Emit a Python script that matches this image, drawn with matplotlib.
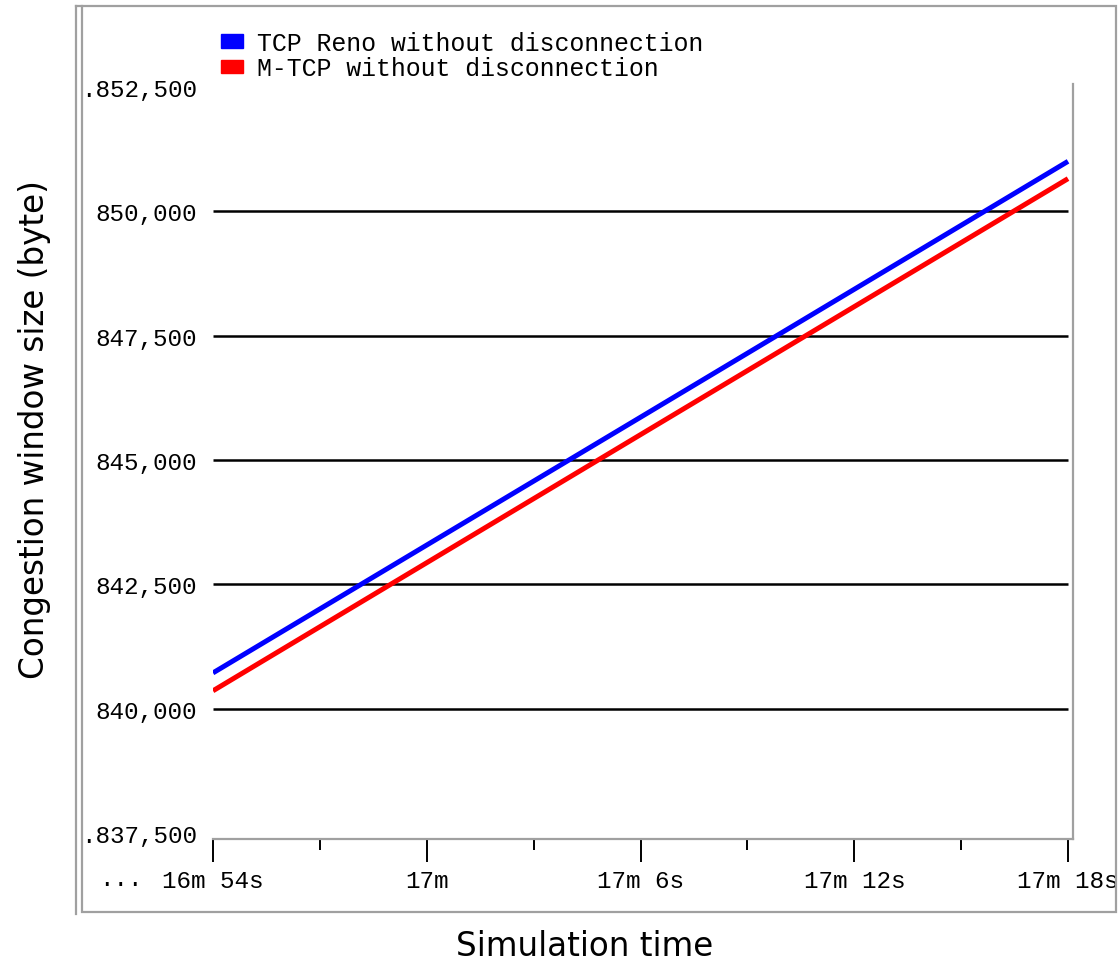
import matplotlib
matplotlib.use("Agg")
import matplotlib.pyplot as plt
from matplotlib.patches import Rectangle
from matplotlib.lines import Line2D
from matplotlib.ticker import FixedLocator, FixedFormatter
import matplotlib.transforms as mtransforms

# ---- data ----
time_s = [1014, 1026, 1038]                 # 16m 54s, 17m 6s, 17m 18s
reno_cwnd = [840720, 845860, 851005]        # TCP Reno without disconnection
mtcp_cwnd = [840360, 845510, 850657]        # M-TCP without disconnection
series_labels = ["TCP Reno without disconnection", "M-TCP without disconnection"]

xtick_major = [1014, 1020, 1026, 1032, 1038]
xtick_major_labels = ["16m 54s", "17m", "17m 6s", "17m 12s", "17m 18s"]
xtick_minor = [1017, 1023, 1029, 1035]
ytick_values = [837500, 840000, 842500, 845000, 847500, 850000, 852500]
ytick_labels = [".837,500", "840,000", "842,500", "845,000", "847,500", "850,000", ".852,500"]
grid_values = [840000, 842500, 845000, 847500, 850000]

W, H = 1118, 970
fig = plt.figure(figsize=(W / 100, H / 100), dpi=100)
fig.patch.set_facecolor("white")

mono = "Liberation Mono"
fs_mono = 17.5

# outer frame
fig.patches.append(Rectangle((82 / W, 1 - 913 / H), (1116 - 82) / W, (913 - 7) / H,
                             transform=fig.transFigure, fill=False,
                             edgecolor="#a0a0a0", linewidth=1.6))
fig.lines.append(Line2D([76 / W, 76 / W], [1 - 915 / H, 1 - 7 / H],
                        transform=fig.transFigure, color="#a0a0a0", linewidth=1.6))
fig.lines.append(Line2D([76 / W, 82 / W], [1 - 7 / H, 1 - 7 / H],
                        transform=fig.transFigure, color="#a0a0a0", linewidth=1.6))

left, right, top, bottom = 213, 1073, 85, 840
ax = fig.add_axes([left / W, 1 - bottom / H, (right - left) / W, (bottom - top) / H])
ax.set_facecolor("white")

ax.set_xlim(1014, 1038.14)
ax.set_ylim(837380, 852560)

for s in ["top", "left"]:
    ax.spines[s].set_visible(False)
for s in ["bottom", "right"]:
    ax.spines[s].set_color("#a0a0a0")
    ax.spines[s].set_linewidth(1.6)

ax.hlines(grid_values, time_s[0], time_s[-1], colors="black", linewidth=1.8, zorder=1)

ax.plot(time_s, reno_cwnd, color="#0000ff", linewidth=3.6, label=series_labels[0],
        solid_capstyle="butt", zorder=3)
ax.plot(time_s, mtcp_cwnd, color="#ff0000", linewidth=3.6, label=series_labels[1],
        solid_capstyle="butt", zorder=3)

ax.xaxis.set_major_locator(FixedLocator(xtick_major))
ax.xaxis.set_major_formatter(FixedFormatter(xtick_major_labels))
ax.xaxis.set_minor_locator(FixedLocator(xtick_minor))
ax.tick_params(axis="x", which="major", length=16.5, width=1.4, color="black",
               pad=5, labelsize=fs_mono)
ax.tick_params(axis="x", which="minor", length=8, width=1.4, color="black")
for lab in ax.get_xticklabels():
    lab.set_fontfamily(mono)

ax.yaxis.set_major_locator(FixedLocator(ytick_values))
ax.yaxis.set_major_formatter(FixedFormatter(ytick_labels))
ax.tick_params(axis="y", which="both", length=0, pad=11.5, labelsize=fs_mono)
for lab in ax.get_yticklabels():
    lab.set_fontfamily(mono)

# "..." before the first x label
ax.text(1014, 837380, "...", transform=ax.transData + mtransforms.ScaledTranslation(-92 / 100, -40 / 100, fig.dpi_scale_trans),
        fontfamily=mono, fontsize=fs_mono, ha="center", va="center")

# legend
handles = [Rectangle((0, 0), 1, 1, color="#0000ff"), Rectangle((0, 0), 1, 1, color="#ff0000")]
ax.legend(handles, series_labels, loc="upper left",
          bbox_to_anchor=(221 / W, 1 - 32 / H), bbox_transform=fig.transFigure,
          frameon=False, prop={"family": mono, "size": 17.9},
          handlelength=0.9, handleheight=0.45, handletextpad=0.55,
          labelspacing=0.05, borderpad=0, borderaxespad=0)

fig.text(585 / W, 1 - 947 / H, "Simulation time", fontfamily="DejaVu Sans",
         fontsize=23.5, ha="center", va="center")
fig.text(35 / W, 1 - 430 / H, "Congestion window size (byte)", fontfamily="DejaVu Sans",
         fontsize=23.5, ha="center", va="center", rotation=90)

fig.savefig("out.png", dpi=100, facecolor="white")
